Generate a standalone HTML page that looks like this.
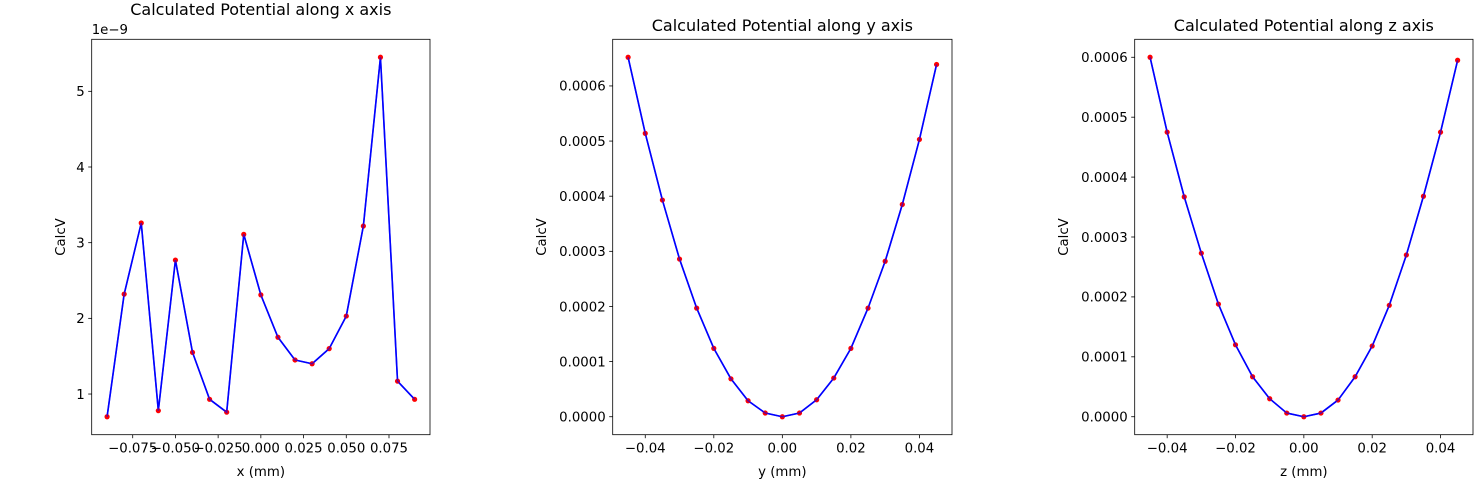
<!DOCTYPE html>
<html><head><meta charset="utf-8"><style>
html,body{margin:0;padding:0;background:#fff;}
svg{display:block;font-family:"DejaVu Sans","Liberation Sans",sans-serif;}
</style></head><body>
<svg id="fig" width="1476" height="480" viewBox="0 0 1476 480" xmlns="http://www.w3.org/2000/svg"></svg>
<script>
// Panel 1 data (x axis, values in units of 1e-9)
const xPos = [-0.09,-0.08,-0.07,-0.06,-0.05,-0.04,-0.03,-0.02,-0.01,0,0.01,0.02,0.03,0.04,0.05,0.06,0.07,0.08,0.09];
const xVals = [0.70,2.32,3.26,0.78,2.77,1.55,0.93,0.76,3.11,2.31,1.75,1.45,1.40,1.60,2.03,3.22,5.45,1.17,0.93];
const xTicksX = [-0.075,-0.05,-0.025,0,0.025,0.05,0.075];
const xTickLabelsX = ["−0.075","−0.050","−0.025","0.000","0.025","0.050","0.075"];
const yTicksX = [1,2,3,4,5];
// Panel 2 data (y axis)
const yPos = [-0.045,-0.04,-0.035,-0.03,-0.025,-0.02,-0.015,-0.01,-0.005,0,0.005,0.01,0.015,0.02,0.025,0.03,0.035,0.04,0.045];
const yVals = [0.000652,0.000514,0.000393,0.000286,0.000197,0.000124,0.0000688,0.000029,0.0000067,0,0.0000067,0.0000308,0.0000701,0.000124,0.000197,0.000282,0.000385,0.000503,0.000639];
// Panel 3 data (z axis)
const zPos = [-0.045,-0.04,-0.035,-0.03,-0.025,-0.02,-0.015,-0.01,-0.005,0,0.005,0.01,0.015,0.02,0.025,0.03,0.035,0.04,0.045];
const zVals = [0.000600,0.000475,0.000367,0.000273,0.000188,0.000120,0.0000667,0.0000300,0.0000061,0,0.0000061,0.0000278,0.0000667,0.000118,0.000186,0.000270,0.000368,0.000475,0.000595];
const smallTicksX = [-0.04,-0.02,0,0.02,0.04];
const smallTickLabels = ["−0.04","−0.02","0.00","0.02","0.04"];
const potTicks = [0,0.0001,0.0002,0.0003,0.0004,0.0005,0.0006];
const potTickLabels = ["0.0000","0.0001","0.0002","0.0003","0.0004","0.0005","0.0006"];

const NS="http://www.w3.org/2000/svg";
const svg=document.getElementById('fig');
function mk(tag,attrs,parent){const e=document.createElementNS(NS,tag);for(const k in attrs)e.setAttribute(k,attrs[k]);(parent||svg).appendChild(e);return e;}

function panel(o){
  const g=mk('g',{});
  
  
  const L=o.left,R=o.left+o.width,T=39.3,B=434.7;
  const xmin=Math.min(...o.xs),xmax=Math.max(...o.xs),xr=xmax-xmin;
  const x0=xmin-0.05*xr,x1=xmax+0.05*xr;
  const ymin=Math.min(...o.ys),ymax=Math.max(...o.ys),yr=ymax-ymin;
  const y0=ymin-0.05*yr,y1=ymax+0.05*yr;
  const sx=v=>L+(v-x0)/(x1-x0)*(R-L);
  const sy=v=>B-(v-y0)/(y1-y0)*(B-T);
  // ticks
  o.xt.forEach((t,i)=>{
    const X=sx(t);
    const tk=mk('line',{x1:X,x2:X,y1:B,y2:B+3.5,stroke:'#000','stroke-width':0.8},g);
    
    
    const tx=mk('text',{x:X,y:B+18,'font-size':13.3,'text-anchor':'middle',fill:'#000'},g);
    tx.textContent=o.xl[i];
    
    
  });
  o.yt.forEach((t,i)=>{
    const Y=sy(t);
    const tk=mk('line',{x1:L-3.5,x2:L,y1:Y,y2:Y,stroke:'#000','stroke-width':0.8},g);
    
    
    const tx=mk('text',{x:L-7,y:Y+4.8,'font-size':13.3,'text-anchor':'end',fill:'#000'},g);
    tx.textContent=o.yl[i];
    
    
  });
  // line
  const pts=o.xs.map((v,i)=>sx(v).toFixed(2)+','+sy(o.ys[i]).toFixed(2)).join(' ');
  const pl=mk('polyline',{points:pts,fill:'none',stroke:'#0000ff','stroke-width':1.6,'stroke-linejoin':'round'},g);
  
  
  o.xs.forEach((v,i)=>{
    const c=mk('circle',{cx:sx(v),cy:sy(o.ys[i]),r:2.6,fill:'#ff0000'},g);
    
    
  });
  // redraw line above points partially like matplotlib (line drawn over scatter)
  const pl2=mk('polyline',{points:pts,fill:'none',stroke:'#0000ff','stroke-width':1.6,'stroke-opacity':0.6},g);
  
  
  const fr=mk('rect',{x:L,y:T,width:R-L,height:B-T,fill:'none',stroke:'#000','stroke-width':0.8},g);
  
  
  const ti=mk('text',{x:(L+R)/2,y:o.titleY,'font-size':16,'text-anchor':'middle',fill:'#000'},g);
  ti.textContent=o.title;
  
  
  const xl=mk('text',{x:(L+R)/2,y:476,'font-size':13.3,'text-anchor':'middle',fill:'#000'},g);
  xl.textContent=o.xlabel;
  
  
  const yl=mk('text',{x:0,y:0,'font-size':13.3,'text-anchor':'middle',fill:'#000',transform:`translate(${o.ylabelX},${(T+B)/2}) rotate(-90)`},g);
  yl.textContent='CalcV';
  
  
  if(o.offset){
    const of=mk('text',{x:L,y:34,'font-size':13.3,'text-anchor':'start',fill:'#000'},g);
    of.textContent=o.offset;
    
    
  }
}
panel({name:'x-axis-panel',left:91.7,width:338.3,xs:xPos,ys:xVals,xt:xTicksX,xl:xTickLabelsX,yt:yTicksX,yl:yTicksX.map(String),title:'Calculated Potential along x axis',titleY:15,xlabel:'x (mm)',ylabelX:65,offset:'1e−9'});
panel({name:'y-axis-panel',left:612.7,width:339.3,xs:yPos,ys:yVals,xt:smallTicksX,xl:smallTickLabels,yt:potTicks,yl:potTickLabels,title:'Calculated Potential along y axis',titleY:31,xlabel:'y (mm)',ylabelX:546});
panel({name:'z-axis-panel',left:1134.7,width:338.3,xs:zPos,ys:zVals,xt:smallTicksX,xl:smallTickLabels,yt:potTicks,yl:potTickLabels,title:'Calculated Potential along z axis',titleY:31,xlabel:'z (mm)',ylabelX:1068});
</script>
</body></html>
